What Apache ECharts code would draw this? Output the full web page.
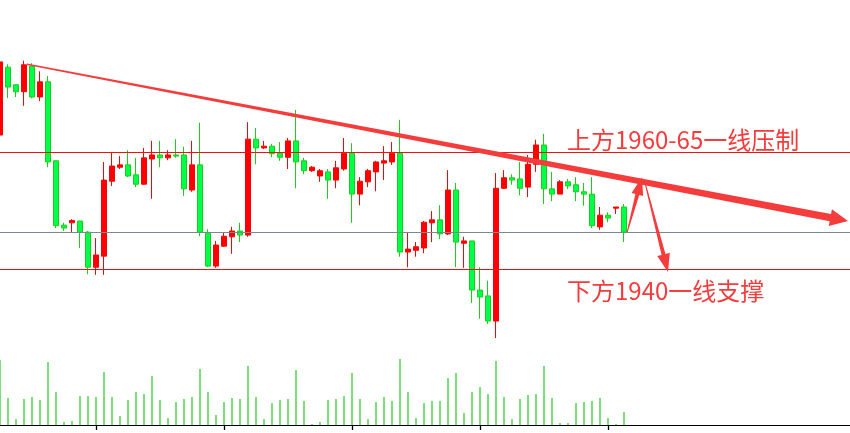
<!DOCTYPE html>
<html>
<head>
<meta charset="utf-8">
<script src="https://cdn.jsdelivr.net/npm/echarts@6/dist/echarts.min.js"></script>
<style>
html,body{margin:0;padding:0;background:#fff;}
#chart{width:850px;height:433px;}
</style>
</head>
<body>
<div id="chart"></div>
<script>
// ---- data ----
// candles: [open, close, low, high]
const candles = [
  [1962.9, 1975.4, 1955.7, 1975.6],
  [1974.5, 1971.1, 1969.2, 1975.0],
  [1971.5, 1970.3, 1969.4, 1971.5],
  [1970.3, 1974.9, 1967.9, 1975.6],
  [1974.7, 1969.4, 1969.2, 1975.2],
  [1969.4, 1972.0, 1968.7, 1973.8],
  [1972.0, 1958.3, 1957.4, 1973.0],
  [1958.5, 1947.4, 1947.0, 1958.5],
  [1947.5, 1947.0, 1946.5, 1947.9],
  [1947.9, 1948.3, 1946.3, 1948.5],
  [1948.2, 1946.3, 1943.6, 1948.2],
  [1946.3, 1940.3, 1939.1, 1946.5],
  [1940.3, 1942.4, 1939.0, 1945.3],
  [1942.2, 1955.2, 1939.0, 1958.3],
  [1955.0, 1957.6, 1954.2, 1960.0],
  [1957.4, 1957.8, 1957.1, 1959.3],
  [1957.8, 1955.9, 1955.7, 1960.3],
  [1956.1, 1954.5, 1954.0, 1959.0],
  [1954.5, 1959.0, 1954.4, 1960.7],
  [1958.8, 1959.5, 1952.0, 1961.9],
  [1959.5, 1959.0, 1957.4, 1961.9],
  [1959.0, 1959.5, 1958.6, 1960.3],
  [1959.5, 1959.3, 1959.0, 1962.2],
  [1959.5, 1953.7, 1952.5, 1960.9],
  [1953.5, 1957.8, 1953.2, 1961.9],
  [1957.8, 1946.3, 1945.6, 1965.0],
  [1946.2, 1940.5, 1940.3, 1946.8],
  [1940.5, 1944.1, 1940.2, 1944.8],
  [1943.9, 1945.6, 1943.8, 1946.3],
  [1945.5, 1946.5, 1942.6, 1947.2],
  [1946.5, 1945.8, 1944.6, 1947.9],
  [1945.8, 1962.2, 1945.5, 1965.1],
  [1962.2, 1960.7, 1957.9, 1964.1],
  [1960.7, 1961.0, 1960.5, 1961.9],
  [1961.0, 1959.7, 1959.1, 1961.4],
  [1959.8, 1959.1, 1958.5, 1961.7],
  [1959.1, 1961.9, 1957.1, 1962.4],
  [1961.9, 1958.3, 1953.8, 1967.2],
  [1958.5, 1956.8, 1956.2, 1959.0],
  [1956.8, 1957.4, 1956.6, 1957.6],
  [1955.9, 1956.8, 1954.9, 1957.1],
  [1956.6, 1955.2, 1952.0, 1957.1],
  [1955.2, 1957.3, 1953.8, 1958.5],
  [1957.1, 1959.8, 1956.8, 1962.4],
  [1959.8, 1952.8, 1947.9, 1961.5],
  [1952.8, 1955.0, 1950.9, 1955.7],
  [1954.9, 1956.8, 1954.0, 1957.1],
  [1956.6, 1958.3, 1953.3, 1958.5],
  [1958.1, 1958.5, 1955.2, 1961.0],
  [1958.3, 1959.8, 1957.8, 1961.7],
  [1959.8, 1942.9, 1942.1, 1965.5],
  [1942.9, 1943.4, 1940.3, 1946.2],
  [1943.2, 1943.8, 1942.1, 1944.6],
  [1943.6, 1948.0, 1942.7, 1948.2],
  [1947.9, 1948.4, 1944.6, 1949.9],
  [1948.4, 1946.0, 1945.1, 1950.9],
  [1946.0, 1953.5, 1945.8, 1956.9],
  [1953.5, 1944.6, 1940.3, 1954.7],
  [1944.4, 1944.8, 1940.2, 1945.5],
  [1944.8, 1936.4, 1934.2, 1944.8],
  [1936.4, 1935.2, 1931.5, 1940.3],
  [1935.4, 1931.1, 1930.6, 1938.0],
  [1931.1, 1953.8, 1928.2, 1956.4],
  [1953.8, 1955.6, 1953.7, 1956.9],
  [1955.6, 1955.2, 1954.4, 1956.2],
  [1955.4, 1953.8, 1952.6, 1958.3],
  [1954.0, 1957.9, 1952.3, 1959.5],
  [1957.9, 1961.2, 1956.6, 1962.1],
  [1961.2, 1953.7, 1951.1, 1963.1],
  [1953.7, 1952.8, 1951.6, 1956.6],
  [1952.8, 1954.9, 1952.8, 1955.2],
  [1954.9, 1954.2, 1953.7, 1955.4],
  [1954.4, 1953.2, 1951.6, 1955.7],
  [1953.2, 1952.8, 1950.8, 1954.7],
  [1952.8, 1947.4, 1947.0, 1955.7],
  [1947.2, 1949.2, 1946.7, 1950.6],
  [1949.2, 1948.7, 1948.0, 1949.7],
  [1950.4, 1950.6, 1949.4, 1950.6],
  [1950.6, 1946.3, 1944.6, 1951.1]
];
const volumes = [
  65,27,6,26,28,25,63,33,3,4,
  29,29,28,53,28,9,25,33,31,49,
  25,7,23,26,28,56,33,10,23,27,
  26,59,28,6,22,25,26,55,24,1,
  3,25,26,29,52,26,6,23,28,24,
  66,33,7,22,24,24,47,52,12,33,
  38,31,64,28,6,26,30,31,59,27,
  2,2,22,23,24,27,7,1,13
];
const slotCount = 107;
const categories = [];
for (let i = 0; i < slotCount; i++) categories.push(String(i));
const tickIndices = [12, 28, 44, 60, 76];
const resistance = 1960;
const midLevel = 1946.3;
const support = 1940;
// annotation arrows: [x0, price0, x1, price1] in category units / price
const trendLine = [3.375, 1975.0, 106, 1948.2];
const upArrow = [78.4, 1946.3, 80.25, 1955.7];
const downArrow = [80.6, 1954.9, 83.5, 1939.5];
const arrows = [trendLine, upArrow, downArrow];
const labelTop = '上方1960-65一线压制';
const labelBottom = '下方1940一线支撑';

// ---- styles (kept separate from data) ----
const arrowShapes = [
  {w0: 1.5, w1: 7.5, headW: 17, headL: 18},
  {w0: 1, w1: 4, headW: 12, headL: 18},
  {w0: 1, w1: 4, headW: 13, headL: 18}
];
const annoColor = '#f43c3c';

const chart = echarts.init(document.getElementById('chart'), null, {renderer: 'canvas'});

function renderArrow(params, api) {
  const p0 = api.coord([api.value(0), api.value(1)]);
  const p1 = api.coord([api.value(2), api.value(3)]);
  const s = arrowShapes[params.dataIndex];
  const dx = p1[0] - p0[0], dy = p1[1] - p0[1];
  const len = Math.sqrt(dx * dx + dy * dy);
  const ux = dx / len, uy = dy / len;
  const nx = -uy, ny = ux;
  const bx = p1[0] - ux * s.headL, by = p1[1] - uy * s.headL;
  const pts = [
    [p0[0] + nx * s.w0 / 2, p0[1] + ny * s.w0 / 2],
    [bx + nx * s.w1 / 2, by + ny * s.w1 / 2],
    [bx + nx * s.headW / 2, by + ny * s.headW / 2],
    [p1[0], p1[1]],
    [bx - nx * s.headW / 2, by - ny * s.headW / 2],
    [bx - nx * s.w1 / 2, by - ny * s.w1 / 2],
    [p0[0] - nx * s.w0 / 2, p0[1] - ny * s.w0 / 2]
  ];
  return {type: 'polygon', shape: {points: pts}, style: {fill: annoColor}};
}

const option = {
  animation: false,
  backgroundColor: '#ffffff',
  grid: [
    {left: -4, right: -2, top: 0, height: 340, outerBoundsMode: 'none', containLabel: false},
    {left: -4, right: -2, top: 345, bottom: 8, outerBoundsMode: 'none', containLabel: false}
  ],
  xAxis: [
    {type: 'category', gridIndex: 0, data: categories, boundaryGap: true, show: false},
    {type: 'value', gridIndex: 0, min: -0.5, max: slotCount - 0.5, show: false},
    {type: 'category', gridIndex: 1, data: categories, boundaryGap: true,
      axisLine: {show: true, lineStyle: {color: '#000', width: 1}},
      axisTick: {show: true, alignWithLabel: true, length: 5, lineStyle: {color: '#000', width: 1.3},
        interval: function (index) { return tickIndices.indexOf(index) >= 0; }},
      axisLabel: {show: false}, splitLine: {show: false}}
  ],
  yAxis: [
    {type: 'value', gridIndex: 0, min: 1927.863, max: 1985.983, show: false, splitLine: {show: false}},
    {type: 'value', gridIndex: 1, min: 0, max: 80, show: false, splitLine: {show: false}}
  ],
  series: [
    {
      type: 'candlestick',
      xAxisIndex: 0, yAxisIndex: 0,
      data: candles,
      barWidth: 5,
      itemStyle: {
        color: '#ff0000', borderColor: '#ff0000',
        color0: '#00ff48', borderColor0: '#18d018',
        borderWidth: 1
      },
      markLine: {
        silent: true,
        symbol: ['none', 'none'],
        label: {show: false},
        animation: false,
        data: [
          {yAxis: resistance, lineStyle: {color: '#ee1111', width: 1, type: 'solid'}},
          {yAxis: midLevel, lineStyle: {color: '#7a8896', width: 1, type: 'solid'}},
          {yAxis: support, lineStyle: {color: '#ee1111', width: 1, type: 'solid'}}
        ]
      },
      z: 2
    },
    {
      type: 'bar',
      xAxisIndex: 2, yAxisIndex: 1,
      data: volumes,
      barWidth: 1.2,
      itemStyle: {color: '#22cc22'}
    },
    {
      type: 'custom',
      xAxisIndex: 1, yAxisIndex: 0,
      data: arrows,
      encode: {x: [0, 2], y: [1, 3]},
      renderItem: renderArrow,
      clip: false,
      silent: true,
      z: 5
    }
  ],
  graphic: [
    {type: 'text', left: 567, top: 128, z: 10,
      style: {text: labelTop, fill: annoColor, fontSize: 24, fontFamily: 'Noto Sans CJK SC'}},
    {type: 'text', left: 567, top: 279, z: 10,
      style: {text: labelBottom, fill: annoColor, fontSize: 24, fontFamily: 'Noto Sans CJK SC'}}
  ]
};
chart.setOption(option);
</script>
</body>
</html>
